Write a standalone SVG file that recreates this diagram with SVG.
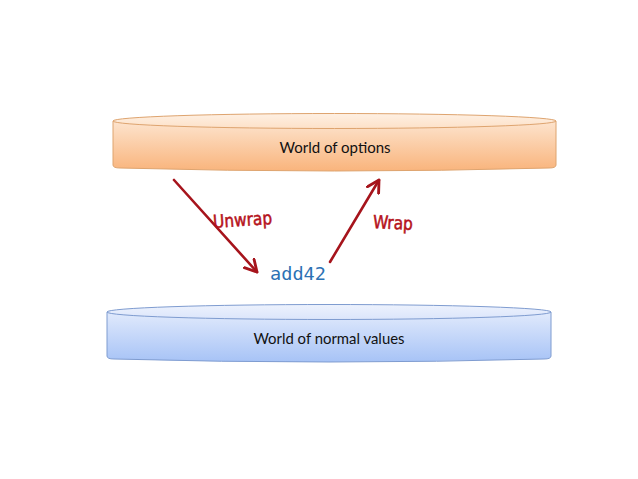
<svg xmlns="http://www.w3.org/2000/svg" width="638" height="479" viewBox="0 0 638 479">
<defs>
<linearGradient id="gOrange" x1="0" y1="0" x2="0" y2="1">
<stop offset="0" stop-color="#fde4ce"/>
<stop offset="1" stop-color="#f9b47c"/>
</linearGradient>
<linearGradient id="gOrangeTop" x1="0" y1="0" x2="0" y2="1">
<stop offset="0" stop-color="#fef0e3"/>
<stop offset="1" stop-color="#fde1c8"/>
</linearGradient>
<linearGradient id="gBlue" x1="0" y1="0" x2="0" y2="1">
<stop offset="0" stop-color="#e1eafc"/>
<stop offset="1" stop-color="#a7c3f6"/>
</linearGradient>
<linearGradient id="gBlueTop" x1="0" y1="0" x2="0" y2="1">
<stop offset="0" stop-color="#edf2fd"/>
<stop offset="1" stop-color="#dbe5fb"/>
</linearGradient>
<marker id="arr" viewBox="0 0 12 12" refX="10" refY="6" markerWidth="6" markerHeight="6" orient="auto" markerUnits="strokeWidth">
<path d="M1,1 L10,6 L1,11" fill="none" stroke="#a6141c" stroke-width="2.2" stroke-linecap="round" stroke-linejoin="round"/>
</marker>
</defs>
<style>
.lbl{font-family:"Lato","Open Sans","Liberation Sans",sans-serif;font-size:15px;fill:#111;text-anchor:middle}
.hand{font-family:"DejaVu Sans Condensed","DejaVu Sans",sans-serif;font-size:18px;fill:#b5121b;stroke:#b5121b;stroke-width:0.5}
.conn{stroke:#a6141c;stroke-width:2.6;fill:none;stroke-linecap:round;marker-end:url(#arr)}
.code{font-family:"DejaVu Sans Mono","Liberation Mono",monospace;font-size:18.5px;fill:#2c72b4}
</style>
<rect width="638" height="479" fill="#ffffff"/>
<g id="options">
<path d="M113,121 L113,165 Q113,168 120,168 Q334.5,174 549,168 Q556,168 556,165 L556,121 Z" fill="url(#gOrange)" stroke="#dea46f" stroke-width="1"/>
<ellipse cx="334.5" cy="121" rx="221.5" ry="7.5" fill="url(#gOrangeTop)" stroke="#dea46f" stroke-width="1"/>
<text class="lbl" x="335" y="153" textLength="111" lengthAdjust="spacingAndGlyphs">World of options</text>
</g>
<g id="normal">
<path d="M107,312 L107,356 Q107,359 114,359 Q329,365 544,359 Q551,359 551,356 L551,312 Z" fill="url(#gBlue)" stroke="#7f9cd0" stroke-width="1"/>
<ellipse cx="329" cy="312" rx="222" ry="7.5" fill="url(#gBlueTop)" stroke="#7f9cd0" stroke-width="1"/>
<text class="lbl" x="329" y="344" textLength="151" lengthAdjust="spacingAndGlyphs">World of normal values</text>
</g>
<g id="add42">
<text class="code" x="270" y="280" textLength="56" lengthAdjust="spacingAndGlyphs">add42</text>
</g>
<g id="connectors">
<line class="conn" x1="174" y1="180" x2="257" y2="272"/>
<line class="conn" x1="330" y1="262" x2="379" y2="180"/>
<text class="hand" x="213" y="226" transform="rotate(-4 243 219)" textLength="59" lengthAdjust="spacingAndGlyphs">Unwrap</text>
<text class="hand" x="373" y="229" transform="rotate(3 393 222)" textLength="40" lengthAdjust="spacingAndGlyphs">Wrap</text>
</g>
</svg>
